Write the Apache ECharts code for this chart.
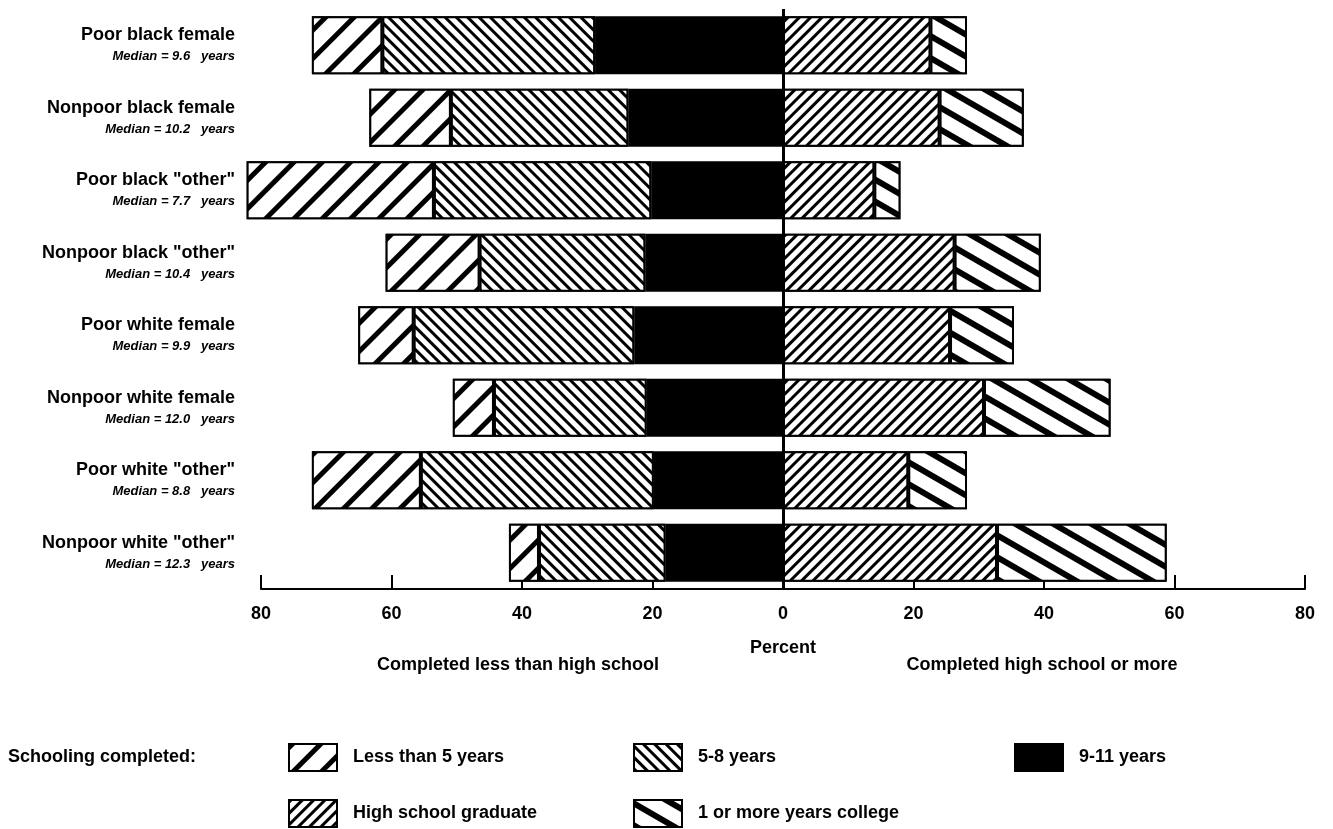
<!DOCTYPE html>
<html>
<head>
<meta charset="utf-8">
<script src="https://cdn.jsdelivr.net/npm/echarts@6/dist/echarts.min.js"></script>
<style>
html,body{margin:0;padding:0;background:#fff;}
#chart{width:1333px;height:829px;}
</style>
</head>
<body>
<div id="chart"></div>
<script>
const categories = [
  'Poor black female', 'Nonpoor black female', 'Poor black "other"', 'Nonpoor black "other"',
  'Poor white female', 'Nonpoor white female', 'Poor white "other"', 'Nonpoor white "other"'
];
const medians = ['9.6', '10.2', '7.7', '10.4', '9.9', '12.0', '8.8', '12.3'];
const lessThan5 = [10.8, 12.5, 28.7, 14.4, 8.5, 6.3, 16.7, 4.6];
const years5to8 = [32.6, 27.2, 33.3, 25.4, 33.8, 23.4, 35.7, 19.4];
const years9to11 = [28.8, 23.7, 20.2, 21.1, 22.8, 20.9, 19.8, 18.0];
const hsGrad = [22.6, 24.0, 14.0, 26.3, 25.6, 30.8, 19.2, 32.8];
const college = [5.6, 12.9, 4.0, 13.2, 9.8, 19.4, 9.0, 26.0];
const xTicks = [-80, -60, -40, -20, 0, 20, 40, 60, 80];

const FONT = '"Liberation Sans", Arial, sans-serif';
const neg = a => a.map(v => -v);

function stripe(thick, gap, rot) {
  return { symbol: 'rect', symbolSize: 1, symbolKeepAspect: false, color: '#000', backgroundColor: '#fff',
           dashArrayX: [1, 0], dashArrayY: [thick, gap], rotation: rot };
}
const border = { borderColor: '#000', borderWidth: 2 };

const chart = echarts.init(document.getElementById('chart'));
const legendBase = { orient: 'horizontal', padding: 0, itemWidth: 48, itemHeight: 27, selectedMode: false,
  icon: 'rect', itemStyle: { borderColor: '#000', borderWidth: 2 },
  textStyle: { fontFamily: FONT, fontSize: 18, fontWeight: 'bold', color: '#000', padding: [0, 0, 0, 11] } };

chart.setOption({
  animation: false,
  backgroundColor: '#fff',
  grid: { left: 261, right: 28, top: 9, bottom: 240, containLabel: false },
  xAxis: {
    type: 'value', min: -80, max: 80, interval: 20,
    name: 'Percent', nameLocation: 'middle', nameGap: 50,
    nameTextStyle: { fontFamily: FONT, fontSize: 18, fontWeight: 'bold', color: '#000' },
    axisLine: { show: true, lineStyle: { color: '#000', width: 2 } },
    axisTick: { show: true, inside: true, length: 14, lineStyle: { color: '#000', width: 2 } },
    splitLine: { show: false },
    axisLabel: { fontFamily: FONT, fontSize: 18, fontWeight: 'bold', color: '#000', margin: 16,
                 formatter: v => String(Math.abs(v)) }
  },
  yAxis: {
    type: 'category', data: categories, inverse: true,
    axisLine: { show: false }, axisTick: { show: false },
    axisLabel: {
      margin: 26, align: 'right',
      formatter: (v, i) => '{a|' + v + '}\n{b|Median = ' + medians[i] + '   years}',
      rich: {
        a: { fontFamily: FONT, fontSize: 18, fontWeight: 'bold', color: '#000', lineHeight: 23, align: 'right' },
        b: { fontFamily: FONT, fontSize: 13, fontWeight: 'bold', fontStyle: 'italic', color: '#000', lineHeight: 20, align: 'right' }
      }
    }
  },
  legend: [
    Object.assign({}, legendBase, { data: ['Less than 5 years'], left: 288, top: 743 }),
    Object.assign({}, legendBase, { data: ['5-8 years'], left: 633, top: 743 }),
    Object.assign({}, legendBase, { data: ['9-11 years'], left: 1014, top: 743 }),
    Object.assign({}, legendBase, { data: ['High school graduate'], left: 288, top: 799 }),
    Object.assign({}, legendBase, { data: ['1 or more years college'], left: 633, top: 799 })
  ],
  graphic: [
    { type: 'text', x: 518, y: 665, style: { text: 'Completed less than high school', font: 'bold 18px ' + FONT, fill: '#000', textAlign: 'center', textVerticalAlign: 'middle' } },
    { type: 'text', x: 1042, y: 665, style: { text: 'Completed high school or more', font: 'bold 18px ' + FONT, fill: '#000', textAlign: 'center', textVerticalAlign: 'middle' } },
    { type: 'text', x: 8, y: 757, style: { text: 'Schooling completed:', font: 'bold 18px ' + FONT, fill: '#000', textAlign: 'left', textVerticalAlign: 'middle' } }
  ],
  series: [
    { name: '9-11 years', type: 'bar', stack: 't', barWidth: '80%', clip: false, data: neg(years9to11),
      itemStyle: Object.assign({ color: '#000' }, border),
      markLine: { silent: true, symbol: ['none', 'none'], label: { show: false },
                  lineStyle: { color: '#000', width: 3, type: 'solid' }, data: [{ xAxis: 0 }] } },
    { name: '5-8 years', type: 'bar', stack: 't', barWidth: '80%', clip: false, data: neg(years5to8),
      itemStyle: Object.assign({ color: '#fff', decal: stripe(2.5, 4.5, Math.PI / 4) }, border) },
    { name: 'Less than 5 years', type: 'bar', stack: 't', barWidth: '80%', clip: false, data: neg(lessThan5),
      itemStyle: Object.assign({ color: '#fff', decal: stripe(5, 15, -Math.PI / 4) }, border) },
    { name: 'High school graduate', type: 'bar', stack: 't', barWidth: '80%', clip: false, data: hsGrad,
      itemStyle: Object.assign({ color: '#fff', decal: stripe(2.5, 4.5, -Math.PI / 4) }, border) },
    { name: '1 or more years college', type: 'bar', stack: 't', barWidth: '80%', clip: false, data: college,
      itemStyle: Object.assign({ color: '#fff', decal: stripe(6, 13, Math.PI / 6) }, border) }
  ]
});
</script>
</body>
</html>
